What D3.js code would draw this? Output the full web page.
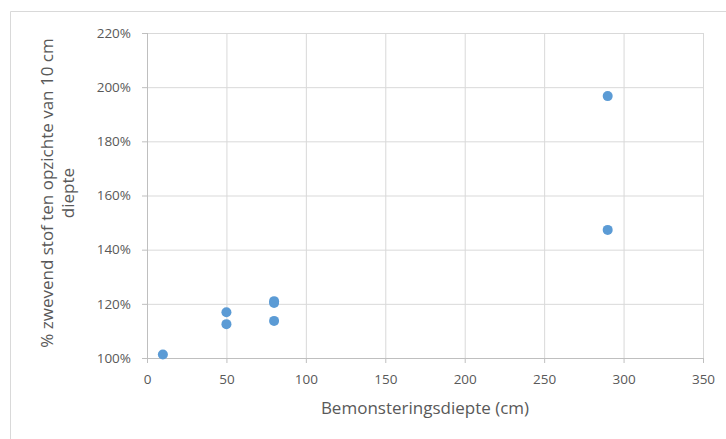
<!DOCTYPE html>
<html>
<head>
<meta charset="utf-8">
<script src="https://cdn.jsdelivr.net/npm/d3@7"></script>
<style>
html, body { margin: 0; padding: 0; background: #fff; overflow: hidden; }
svg { display: block; }
text { font-family: "Open Sans", sans-serif; fill: #595959; }
</style>
</head>
<body>
<script>
// sampling depth (cm) and suspended matter relative to 10 cm depth
let depths = [10, 50, 50, 80, 80, 80, 290, 290];
let ratios = [1.013, 1.169, 1.125, 1.210, 1.203, 1.137, 1.967, 1.473];
let xTicks = [0, 50, 100, 150, 200, 250, 300, 350];
let yTicks = [1.0, 1.2, 1.4, 1.6, 1.8, 2.0, 2.2];

let svg = d3.select("body").append("svg")
	.attr("width", 726)
	.attr("height", 439);

let margin = {top: 33, right: 23, bottom: 81, left: 147};
let innerWidth = 726 - margin.left - margin.right;
let innerHeight = 439 - margin.top - margin.bottom;

// chart frame (only top and left edge visible)
svg.append("path")
	.attr("d", "M10.5,439 V11.5 H726")
	.attr("fill", "none")
	.attr("stroke", "#d9d9d9")
	.attr("stroke-width", 1);

let scaleX = d3.scaleLinear().domain([0, 350]).range([0, innerWidth]);
let scaleY = d3.scaleLinear().domain([1.0, 2.2]).range([innerHeight, 0]);

let g = svg.append("g")
	.attr("transform", `translate(${margin.left}, ${margin.top})`);

// gridlines
let xAxis = d3.axisBottom(scaleX).tickValues(xTicks).tickSize(-innerHeight).tickFormat("");
let yAxis = d3.axisLeft(scaleY).tickValues(yTicks).tickSize(-innerWidth).tickFormat("");

let xGrid = g.append("g").attr("transform", `translate(0, ${innerHeight})`).call(xAxis);
let yGrid = g.append("g").call(yAxis);
[xGrid, yGrid].forEach(a => {
	a.select(".domain").remove();
	a.selectAll("text").remove(); //no empty labels
	a.selectAll("line").attr("stroke", "#d9d9d9");
});

// axes with small outside ticks
let xG = g.append("g")
	.attr("transform", `translate(0, ${innerHeight})`)
	.call(d3.axisBottom(scaleX).tickValues(xTicks).tickSizeInner(5).tickSizeOuter(0).tickPadding(11));
let yG = g.append("g")
	.call(d3.axisLeft(scaleY).tickValues(yTicks).tickSizeInner(5).tickSizeOuter(0).tickPadding(11)
		.tickFormat(d3.format(".0%")));

[xG, yG].forEach(a => {
	a.attr("font-size", 13.5).attr("font-family", "'Open Sans', sans-serif");
	a.select(".domain").attr("stroke", "#bfbfbf");
	a.selectAll("line").attr("stroke", "#bfbfbf");
	a.selectAll("text").attr("fill", "#595959");
});
yG.select(".domain").attr("d", `M0.5,${innerHeight}V0`);

// points
g.selectAll("circle")
	.data(depths.map((d, i) => ({x: d, y: ratios[i]})))
	.enter().append("circle")
	.attr("cx", d => scaleX(d.x))
	.attr("cy", d => scaleY(d.y))
	.attr("r", 5)
	.attr("fill", "#5b9bd5");

// axis titles
svg.append("text")
	.attr("x", margin.left + innerWidth / 2)
	.attr("y", 414)
	.attr("text-anchor", "middle")
	.attr("font-size", 17)
	.text("Bemonsteringsdiepte (cm)");

let yTitle = svg.append("text")
	.attr("transform", `translate(0, ${margin.top + 160}) rotate(-90)`)
	.attr("text-anchor", "middle")
	.attr("font-size", 17);
yTitle.append("tspan").attr("x", 0).attr("y", 53).text("% zwevend stof ten opzichte van 10 cm");
yTitle.append("tspan").attr("x", 0).attr("y", 74).text("diepte");
</script>
</body>
</html>
